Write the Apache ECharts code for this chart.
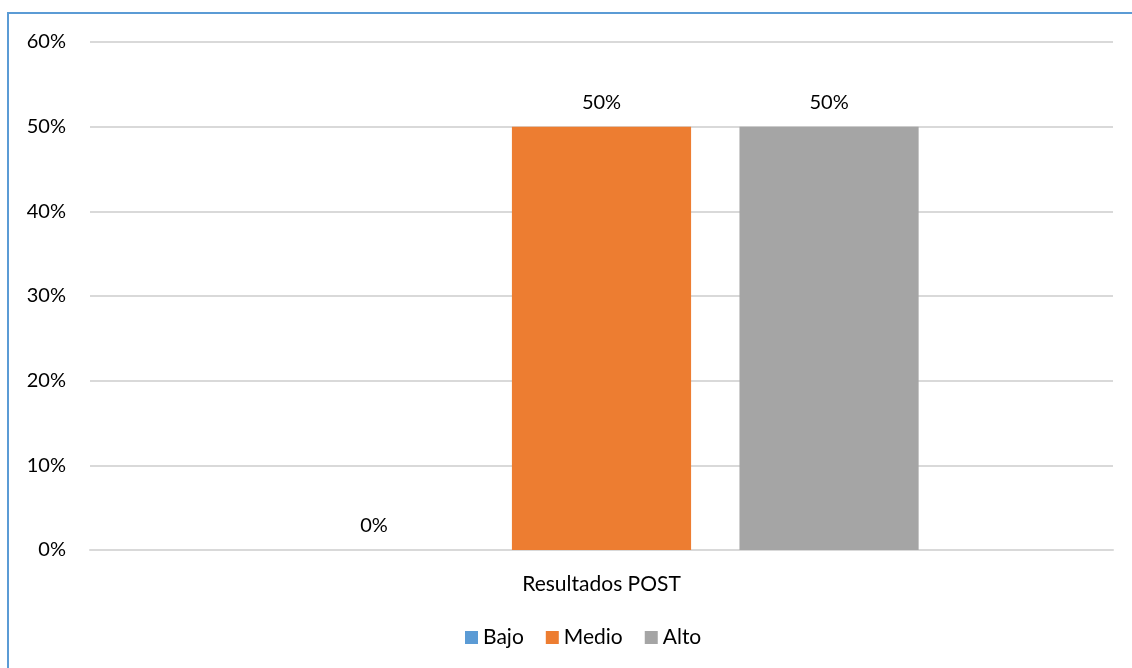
<!DOCTYPE html>
<html>
<head>
<meta charset="utf-8">
<script src="https://cdn.jsdelivr.net/npm/echarts@6/dist/echarts.min.js"></script>
<style>
  html, body { margin: 0; padding: 0; background: #fff; }
  #frame {
    position: absolute; left: 7px; top: 12px; width: 1140px; height: 680px;
    border-left: 2px solid #5b9bd5; border-top: 2px solid #5b9bd5;
  }
  #chart { position: absolute; left: 0; top: 0; width: 1132px; height: 668px; }
</style>
</head>
<body>
<div id="frame"></div>
<div id="chart"></div>
<script>
var categories = ['Resultados POST'];
var seriesNames = ['Bajo', 'Medio', 'Alto'];
var seriesColors = ['#5b9bd5', '#ed7d31', '#a5a5a5'];
var bajo = [0];
var medio = [0.5];
var alto = [0.5];
var values = [bajo, medio, alto];

var FONT = 'Lato';
var chart = echarts.init(document.getElementById('chart'));

function pct(v) { return Math.round(v * 100) + '%'; }

chart.setOption({
  animation: false,
  textStyle: { fontFamily: FONT, color: '#000' },
  grid: { left: 90, right: 19, top: 42, bottom: 118 },
  legend: {
    bottom: 15,
    left: 460,
    itemWidth: 13,
    itemHeight: 13,
    itemGap: 22,
    icon: 'rect',
    textStyle: { fontFamily: FONT, fontSize: 21, color: '#000' },
    data: seriesNames
  },
  xAxis: {
    type: 'category',
    data: categories,
    axisLine: { lineStyle: { color: '#d9d9d9', width: 2 } },
    axisTick: { show: false },
    axisLabel: { fontFamily: FONT, fontSize: 21, color: '#000', margin: 24 }
  },
  yAxis: {
    type: 'value',
    min: 0,
    max: 0.6,
    interval: 0.1,
    axisLine: { show: false },
    axisTick: { show: false },
    splitLine: { lineStyle: { color: '#d9d9d9', width: 2 } },
    axisLabel: { fontFamily: FONT, fontSize: 20, color: '#000', margin: 24, formatter: pct }
  },
  series: seriesNames.map(function (name, i) {
    return {
      name: name,
      type: 'bar',
      data: values[i],
      barGap: '27%',
      barCategoryGap: '38%',
      itemStyle: { color: seriesColors[i] },
      label: {
        show: true,
        position: 'top',
        distance: 14,
        fontFamily: FONT,
        fontSize: 20,
        color: '#000',
        formatter: function (p) { return pct(p.value); }
      }
    };
  })
});
</script>
</body>
</html>
